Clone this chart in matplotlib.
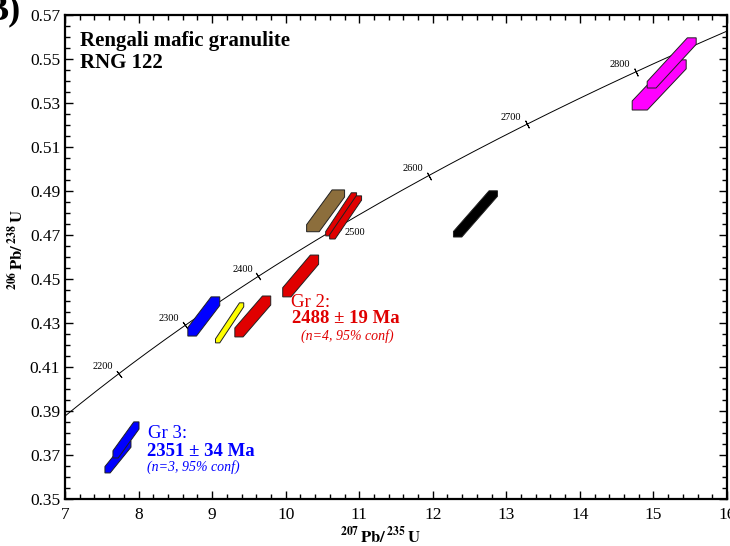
import numpy as np
import matplotlib.pyplot as plt
from matplotlib.patches import Polygon

plt.rcParams['font.family'] = ['Liberation Serif', 'DejaVu Serif']
plt.rcParams['mathtext.fontset'] = 'stix'

# error boxes: centre, half widths, corner cut fractions, colour
box_x = [7.720, 7.829, 8.887, 9.238, 9.553, 10.204, 10.543, 10.754, 10.815, 12.580, 15.078, 15.248]
box_y = [0.3690, 0.3767, 0.4328, 0.4299, 0.4328, 0.4512, 0.4808, 0.4792, 0.4778, 0.4794, 0.5380, 0.5480]
box_sx = [0.177, 0.177, 0.217, 0.192, 0.244, 0.244, 0.258, 0.210, 0.217, 0.299, 0.367, 0.333]
box_sy = [0.0073, 0.0082, 0.0089, 0.0091, 0.0093, 0.0095, 0.0095, 0.0098, 0.0098, 0.0105, 0.0114, 0.0114]
box_fx = [0.2, 0.2, 0.27, 0.15, 0.23, 0.23, 0.33, 0.17, 0.17, 0.19, 0.28, 0.18]
box_fy = [0.2, 0.2, 0.22, 0.10, 0.22, 0.22, 0.17, 0.10, 0.10, 0.12, 0.18, 0.13]
box_col = ['#0000ff', '#0000ff', '#0000ff', '#ffff00', '#e00000', '#e00000',
           '#8c6e3c', '#e00000', '#e00000', '#000000', '#ff00ff', '#ff00ff']

# concordia (decay constants, 1/yr) and age marks (Ma)
lam238 = 1.55125e-10
lam235 = 9.8485e-10
age_marks = [2200, 2300, 2400, 2500, 2600, 2700, 2800]

fig = plt.figure(figsize=(7.3, 5.46), dpi=100)
ax = fig.add_axes([65/730, 1-498.7/546, 662/730, 484.2/546])
ax.set_xlim(7, 16)
ax.set_ylim(0.35, 0.57)

t = np.linspace(2000, 3000, 400) * 1e6
ax.plot(np.exp(lam235*t)-1, np.exp(lam238*t)-1, color='black', lw=0.7, zorder=1)

for i in range(len(box_x)):
    x0, x1 = box_x[i]-box_sx[i], box_x[i]+box_sx[i]
    y0, y1 = box_y[i]-box_sy[i], box_y[i]+box_sy[i]
    a = box_fx[i]*2*box_sx[i]
    b = box_fy[i]*2*box_sy[i]
    verts = [(x0, y0), (x0+a, y0), (x1, y1-b), (x1, y1), (x1-a, y1), (x0, y0+b)]
    ax.add_patch(Polygon(verts, closed=True, facecolor=box_col[i],
                         edgecolor='#202020', lw=0.7, zorder=2+i))

# age ticks on concordia
for age in age_marks:
    tt = age*1e6
    p = ax.transData.transform([[np.exp(lam235*(tt-5e6))-1, np.exp(lam238*(tt-5e6))-1],
                                [np.exp(lam235*(tt+5e6))-1, np.exp(lam238*(tt+5e6))-1]])
    ang = np.degrees(np.arctan2(p[1, 1]-p[0, 1], p[1, 0]-p[0, 0]))
    xm, ym = np.exp(lam235*tt)-1, np.exp(lam238*tt)-1
    ax.plot(xm, ym, marker=(2, 2, ang), ms=6, mew=0.7, color='black', zorder=1)
    off = (16, -6) if age == 2500 else (-16, 7)
    ax.annotate(str(age), (xm, ym), xytext=off, textcoords='offset pixels',
                ha='center', va='center', fontsize=7.5)

ax.text(10.07, 0.4392, 'Gr 2:', color='#e00000', fontsize=13.5, va='center')
ax.text(10.09, 0.4317, '2488 ± 19 Ma', color='#e00000', fontsize=13.5,
        fontweight='bold', va='center')
ax.text(10.21, 0.4240, '(n=4, 95% conf)', color='#e00000', fontsize=10,
        style='italic', va='center')
ax.text(8.13, 0.3794, 'Gr 3:', color='#0000ff', fontsize=13.5, va='center')
ax.text(8.12, 0.3714, '2351 ± 34 Ma', color='#0000ff', fontsize=13.5,
        fontweight='bold', va='center')
ax.text(8.12, 0.3642, '(n=3, 95% conf)', color='#0000ff', fontsize=10,
        style='italic', va='center')

ax.set_xticks(np.arange(7, 17, 1))
ax.set_xticks(np.arange(7, 16.01, 0.2), minor=True)
ax.set_yticks(np.arange(0.35, 0.5701, 0.02))
ax.set_yticks(np.arange(0.35, 0.5701, 0.005), minor=True)
ax.set_yticklabels(['%.2f' % v for v in np.arange(0.35, 0.5701, 0.02)])
ax.tick_params(which='both', direction='in', top=True, right=True, labelsize=12.5,
               width=1, colors='black')
ax.tick_params(axis='x', pad=6)
ax.tick_params(which='major', length=6)
ax.tick_params(which='minor', length=3.5)
for s in ax.spines.values():
    s.set_linewidth(1.6)

fig.text(80/730, 1-31/546, 'Rengali mafic granulite\nRNG 122', fontsize=15,
         fontweight='bold', va='top', ha='left', linespacing=1.1)
fig.text(-0.022, 1.01, 'B)', fontsize=26, fontweight='bold', va='top', ha='left')
fig.text(380/730, 1-536/546, r'$^{\mathbf{207}}\,\mathbf{Pb/}\,^{\mathbf{235}}\,\mathbf{U}$',
         fontsize=12, ha='center', va='center')
fig.text(17/730, 1-250/546, r'$^{\mathbf{206}}\,\mathbf{Pb/}\,^{\mathbf{238}}\,\mathbf{U}$',
         fontsize=12, ha='center', va='center', rotation=90)

fig.savefig('out.png', dpi=100)
